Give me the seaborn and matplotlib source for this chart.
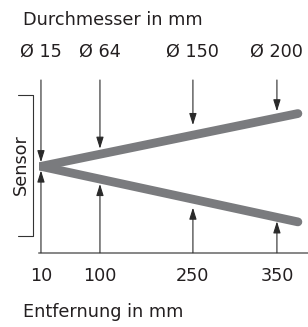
import numpy as np
import pandas as pd
import matplotlib
matplotlib.use("Agg")
import matplotlib.pyplot as plt
import matplotlib.transforms as mtransforms
from matplotlib.lines import Line2D
import seaborn as sns

# ---- data ----
distances_mm = [10, 100, 250, 350]          # Entfernung in mm
diameters_mm = [15, 64, 150, 200]           # Durchmesser in mm
diam_labels = ["Ø 15", "Ø 64", "Ø 150", "Ø 200"]
dist_labels = ["10", "100", "250", "350"]
beam_dist = [10, 375]                       # beam edges (sensor apex -> end)
beam_upper = [0, 96]
beam_lower = [0, -101]

# ---- style ----
sns.set_theme(style="white")
plt.rcParams["font.family"] = ["DejaVu Sans"]
TXT = "#231f20"
FS = 12.7
W, H = 308, 327

fig = plt.figure(figsize=(W / 100, H / 100), dpi=100)
ax = fig.add_axes([39 / W, (H - 252.7) / H, 269 / W, (252.7 - 80) / H])

# schematic (non-linear) distance axis, piecewise linear through the ticks
knots_u = np.array([0.0, 0.25, 0.644, 1.0])
kx = np.array(distances_mm, float)
s0 = (knots_u[1] - knots_u[0]) / (kx[1] - kx[0])
sN = (knots_u[-1] - knots_u[-2]) / (kx[-1] - kx[-2])
xp = np.concatenate([[kx[0] - 1e4], kx, [kx[-1] + 1e4]])
up = np.concatenate([[knots_u[0] - 1e4 * s0], knots_u, [knots_u[-1] + 1e4 * sN]])


def fwd(x):
    return np.interp(np.asarray(x, float), xp, up)


def inv(u):
    return np.interp(np.asarray(u, float), up, xp)


ax.set_xscale("function", functions=(fwd, inv))
ax.set_xlim(7, 387)
ax.set_ylim(-157, 157)

# beam lines
beam_df = pd.DataFrame({
    "dist": beam_dist + beam_dist,
    "half": beam_upper + beam_lower,
    "edge": ["upper"] * 2 + ["lower"] * 2,
})
sns.lineplot(data=beam_df, x="dist", y="half", units="edge", estimator=None,
             sort=False, color="#7a7b7e", lw=6.3, ax=ax,
             solid_capstyle="round", legend=False)

# dimension arrows
ytop, ybot = ax.get_ylim()[1], ax.get_ylim()[0]
for xd, d in zip(distances_mm, diameters_mm):
    for start, end in ((ytop, d / 2), (ybot, -d / 2)):
        ax.annotate("", xy=(xd, end), xytext=(xd, start),
                    arrowprops=dict(arrowstyle="-|>,head_length=0.7,head_width=0.22",
                                    color="#2a2a2a", lw=0.8, mutation_scale=10,
                                    shrinkA=0, shrinkB=0))

# axes styling
for s in ("left", "top", "right"):
    ax.spines[s].set_visible(False)
ax.spines["bottom"].set_color("#666666")
ax.spines["bottom"].set_linewidth(1.1)
ax.set_yticks([])
ax.set_xticks(distances_mm)
ax.set_xticklabels(dist_labels)
ax.tick_params(axis="x", length=0, pad=10, labelsize=FS, labelcolor=TXT)
ax.set_xlabel("")
ax.set_ylabel("")
ax.grid(False)

# diameter labels above the arrows
blend = mtransforms.blended_transform_factory(ax.transData, fig.transFigure)
for xd, lab in zip(distances_mm, diam_labels):
    ax.text(xd, (H - 57) / H, lab, transform=blend, ha="center", va="baseline",
            fontsize=FS, color=TXT)

# titles
fig.text(22.7 / W, (H - 25) / H, "Durchmesser in mm", va="baseline",
         ha="left", fontsize=FS, color=TXT)
fig.text(22.7 / W, (H - 317) / H, "Entfernung in mm", va="baseline",
         ha="left", fontsize=FS, color=TXT)

# sensor bracket
fig.add_artist(Line2D([18 / W, 33 / W, 33 / W, 18 / W],
                      [(H - 95) / H, (H - 95) / H, (H - 236) / H, (H - 236) / H],
                      transform=fig.transFigure, color="#333333", lw=0.8))
fig.text(20.5 / W, (H - 165) / H, "Sensor", rotation=90, ha="center",
         va="center", fontsize=FS, color=TXT)

fig.savefig("out.png", dpi=100)
